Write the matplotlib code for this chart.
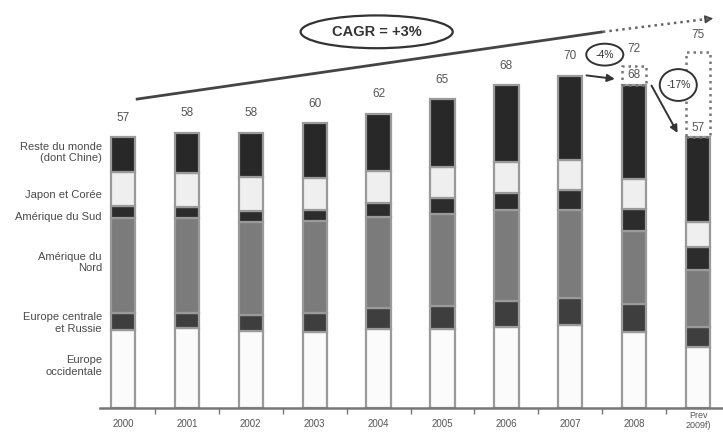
import matplotlib
matplotlib.use("Agg")
import matplotlib.pyplot as plt
from matplotlib.patches import Ellipse, Rectangle
import numpy as np

plt.rcParams['font.family'] = ['Liberation Sans', 'DejaVu Sans']

years = ["2000", "2001", "2002", "2003", "2004", "2005", "2006", "2007", "2008", "Prev\n2009f)"]
totals = [57, 58, 58, 60, 62, 65, 68, 70, 68, 57]
forecast_2008 = 72
forecast_2009 = 75

# segments, bottom to top
europe_occ = [16.5, 16.8, 16.2, 16.1, 16.6, 16.7, 17.0, 17.4, 15.9, 12.9]
europe_centrale = [3.6, 3.2, 3.4, 3.8, 4.4, 4.7, 5.5, 5.8, 6.0, 4.1]
amerique_nord = [19.9, 19.9, 19.6, 19.4, 19.3, 19.5, 19.2, 18.4, 15.3, 12.1]
amerique_sud = [2.5, 2.5, 2.3, 2.3, 2.8, 3.4, 3.6, 4.4, 4.8, 4.8]
japon_coree = [7.2, 7.1, 7.2, 6.9, 6.7, 6.5, 6.5, 6.3, 6.3, 5.2]
reste_monde = [7.3, 8.5, 9.3, 11.5, 12.2, 14.2, 16.2, 17.7, 19.7, 17.9]

regions = ["Europe\noccidentale", "Europe centrale\net Russie", "Amérique du\nNord",
           "Amérique du Sud", "Japon et Corée", "Reste du monde\n(dont Chine)"]
series = [europe_occ, europe_centrale, amerique_nord, amerique_sud, japon_coree, reste_monde]
colors = ["#fbfbfb", "#3e3e3e", "#7b7b7b", "#2c2c2c", "#efefef", "#282828"]

fig = plt.figure(figsize=(7.23, 4.33), dpi=100)
ax = fig.add_axes([100 / 723, 25 / 433, 623 / 723, 408 / 433])

x = np.arange(len(years))
bottom = np.zeros(len(years))
for vals, col in zip(series, colors):
    ax.bar(x, vals, width=0.38, bottom=bottom, color=col,
           edgecolor="#9a9a9a", linewidth=1.6, zorder=2)
    bottom += np.array(vals)

# totals above the bars
for i, t in enumerate(totals):
    off = 7 if i >= 8 else 14
    ax.annotate(str(t), (x[i], t), xytext=(0, off), textcoords="offset points",
                ha="center", va="center", fontsize=8.5, color="#555555")

# forecast boxes for 2008 and 2009
for i, fc in [(8, forecast_2008), (9, forecast_2009)]:
    ax.add_patch(Rectangle((x[i] - 0.19, totals[i]), 0.38, fc - totals[i], fill=False,
                           ls=(0, (1, 1.6)), lw=1.8, edgecolor="#777777", zorder=3))
    ax.annotate(str(fc), (x[i], fc), xytext=(0, 12), textcoords="offset points",
                ha="center", va="center", fontsize=8.5, color="#555555")

# region labels next to the first bar
first = np.array([s[0] for s in series])
mids = np.cumsum(first) - first / 2
nudge = [0.6, -0.4, 0.6, -1.0, -1.3, 0.5]
for name, m, n in zip(regions, mids, nudge):
    ax.text(-0.33, m + n, name, ha="right", va="center", fontsize=8,
            color="#4a4a4a", linespacing=1.15)

# CAGR trend line
ax.plot([0.2, 7.51], [65, 79.2], color="#444444", lw=2, solid_capstyle="butt", zorder=4)
ax.plot([7.51, 9.2], [79.2, 82.0], color="#666666", lw=1.8, ls=(0, (1, 1.6)), zorder=4)
ax.annotate("", xy=(9.28, 82.1), xytext=(9.15, 81.9),
            arrowprops=dict(arrowstyle="-|>", color="#444444", lw=1, mutation_scale=12))
ax.add_patch(Ellipse((3.97, 79.2), 2.38, 6.9, facecolor="white",
                     edgecolor="#333333", lw=1.6, zorder=5))
ax.text(3.97, 79.2, "CAGR = +3%", ha="center", va="center", fontsize=10.5,
        fontweight="bold", color="#333333", zorder=6)

# drop arrows and percentages
ax.annotate("", xy=(7.74, 69.2), xytext=(7.21, 70.1),
            arrowprops=dict(arrowstyle="-|>", color="#333333", lw=1.4, mutation_scale=11))
ax.annotate("", xy=(8.7, 57.4), xytext=(8.25, 68.4),
            arrowprops=dict(arrowstyle="-|>", color="#333333", lw=1.4, mutation_scale=11))
for (cx, cy, h), lab in [((7.54, 74.4, 4.6), "-4%"), ((8.69, 68.0, 6.7), "-17%")]:
    ax.add_patch(Ellipse((cx, cy), 0.58, h, facecolor="white",
                         edgecolor="#333333", lw=1.4, zorder=5))
    ax.text(cx, cy, lab, ha="center", va="center", fontsize=7.5,
            color="#333333", zorder=6)

ax.set_xlim(-0.36, 9.39)
ax.set_ylim(0, 85.9)
for s in ["top", "right", "left"]:
    ax.spines[s].set_visible(False)
ax.spines["bottom"].set_color("#777777")
ax.spines["bottom"].set_linewidth(1.8)
ax.set_yticks([])

ax.set_xticks(x[:-1])
ax.set_xticklabels(years[:-1], fontsize=7, color="#555555")
ax.tick_params(axis="x", which="major", length=0, pad=8)
ax.set_xticks(x[:-1] + 0.5, minor=True)
ax.tick_params(axis="x", which="minor", length=4, width=1, color="#777777")
ax.annotate(years[-1], (x[-1], 0), xycoords=("data", "axes fraction"),
            xytext=(0, -9), textcoords="offset points", ha="center", va="center",
            fontsize=6.5, color="#555555", annotation_clip=False, linespacing=1.2)

fig.savefig("out.png", dpi=100, facecolor="white")
